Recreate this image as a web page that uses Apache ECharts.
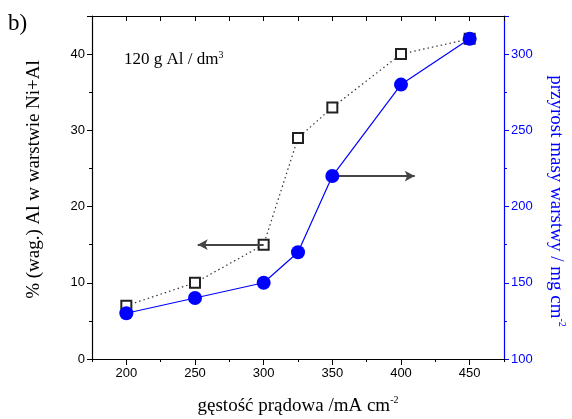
<!DOCTYPE html>
<html>
<head>
<meta charset="utf-8">
<script src="https://cdn.jsdelivr.net/npm/echarts@6/dist/echarts.min.js"></script>
<style>
  html, body { margin: 0; padding: 0; background: #fff; }
  #chart { width: 572px; height: 419px; }
</style>
</head>
<body>
<div id="chart"></div>
<script>
// current density, mA cm-2
var density = [200, 250, 300, 325, 350, 400, 450];
// % Al (wt.) in the Ni+Al layer - left axis
var alContent = [7, 10, 15, 29, 33, 40, 42];
// mass gain of the layer, mg cm-2 - right axis
var massGain = [130, 140, 150, 170, 220, 280, 310];
// labelled ticks on the x axis
var xMajorTicks = [200, 250, 300, 350, 400, 450];

var serif = 'Liberation Serif';
var sans = 'Liberation Sans';
var blue = '#0000ff';

var chartDom = document.getElementById('chart');
var myChart = echarts.init(chartDom);

function pairs(xs, ys) {
  return xs.map(function (x, i) { return [x, ys[i]]; });
}

function sup(color) {
  return {
    t: { font: '19px "Liberation Serif", serif', fill: color },
    sup: { font: '10px "Liberation Serif", serif', fill: color, padding: [0, 0, 11, 0] }
  };
}

var option = {
  animation: false,
  textStyle: { fontFamily: serif },
  grid: { left: 92, right: 68, top: 16, bottom: 60, outerBoundsMode: 'none', containLabel: false },
  graphic: [
    { type: 'text', left: 8, top: 12,
      style: { text: 'b)', fontFamily: serif, fontSize: 23, fill: '#000' } },
    { type: 'text', left: 124, top: 50,
      style: { text: '120 g Al / dm{sup|3}', fontFamily: serif, fontSize: 17, fill: '#000',
        rich: { sup: { fontFamily: serif, fontSize: 10, padding: [0, 0, 10, 0] } } } },
    // x axis title
    { type: 'text', x: 298, y: 406,
      style: { text: '{t|gęstość prądowa /mA cm}{sup|-2}', font: '19px "Liberation Serif", serif',
        fill: '#000', align: 'center', verticalAlign: 'middle', rich: sup('#000') } },
    // right axis title, read top to bottom
    { type: 'text', x: 556, y: 201, rotation: -Math.PI / 2,
      style: { text: '{t|przyrost masy warstwy / mg cm}{sup|-2}', font: '19px "Liberation Serif", serif',
        fill: blue, align: 'center', verticalAlign: 'middle', rich: sup(blue) } }
  ],
  xAxis: [
    {
      type: 'value', min: 175, max: 475, interval: 25, position: 'bottom',
      axisLine: { onZero: false, lineStyle: { color: '#000', width: 1.2 } },
      axisTick: { show: true, length: 3, lineStyle: { color: '#000' } },
      axisLabel: {
        fontFamily: sans, fontSize: 13, color: '#000', margin: 8,
        formatter: function (v) { return xMajorTicks.indexOf(v) >= 0 ? String(v) : ''; }
      },
      splitLine: { show: false }
    },
    {
      type: 'value', min: 175, max: 475, position: 'bottom',
      axisLine: { show: false },
      axisTick: { show: true, length: 6, customValues: xMajorTicks, lineStyle: { color: '#000' } },
      axisLabel: { show: false },
      splitLine: { show: false }
    },
    {
      type: 'value', min: 175, max: 475, interval: 25, position: 'top',
      axisLine: { onZero: false, lineStyle: { color: '#000', width: 1.2 } },
      axisTick: { show: true, inside: true, length: 5, lineStyle: { color: '#000' } },
      axisLabel: { show: false },
      splitLine: { show: false }
    }
  ],
  yAxis: [
    {
      type: 'value', min: 0, max: 45, interval: 10, position: 'left',
      name: '% (wag.) Al w warstwie Ni+Al',
      nameLocation: 'middle', nameGap: 48,
      nameTextStyle: { fontFamily: serif, fontSize: 19, color: '#000', padding: [0, 0, 0, 16] },
      axisLine: { show: true, onZero: false, lineStyle: { color: '#000', width: 1.2 } },
      axisTick: { show: true, length: 5, lineStyle: { color: '#000' } },
      minorTick: { show: true, splitNumber: 2, length: 3, lineStyle: { color: '#000' } },
      axisLabel: { fontFamily: sans, fontSize: 13, color: '#000', margin: 7, showMaxLabel: false },
      splitLine: { show: false }
    },
    {
      type: 'value', min: 100, max: 325, interval: 50, position: 'right',
      axisLine: { show: true, onZero: false, lineStyle: { color: blue, width: 1.2 } },
      axisTick: { show: true, length: 5, lineStyle: { color: blue } },
      minorTick: { show: true, splitNumber: 2, length: 3, lineStyle: { color: blue } },
      axisLabel: { fontFamily: sans, fontSize: 13, color: blue, margin: 7, showMaxLabel: false },
      splitLine: { show: false }
    }
  ],
  series: [
    {
      name: 'Al',
      type: 'line',
      xAxisIndex: 0, yAxisIndex: 0,
      data: pairs(density, alContent),
      symbol: 'emptyRect', symbolSize: 10,
      itemStyle: { color: '#222', borderWidth: 1.5 },
      lineStyle: { color: '#333', width: 1.2, type: [1.5, 3] },
      zlevel: 0,
      markLine: {
        silent: true,
        symbol: ['none', 'arrow'], symbolSize: [8, 10],
        label: { show: false },
        lineStyle: { color: '#444', width: 2, type: 'solid' },
        data: [[{ coord: [300, 15] }, { coord: [252, 15] }]]
      }
    },
    {
      name: 'masa',
      type: 'line',
      xAxisIndex: 0, yAxisIndex: 1,
      data: pairs(density, massGain),
      symbol: 'circle', symbolSize: 14,
      itemStyle: { color: blue },
      lineStyle: { color: blue, width: 1.2 },
      zlevel: 1,
      markLine: {
        silent: true,
        symbol: ['none', 'arrow'], symbolSize: [8, 10],
        label: { show: false },
        lineStyle: { color: '#444', width: 2, type: 'solid' },
        data: [[{ coord: [350, 220] }, { coord: [410, 220] }]]
      }
    }
  ]
};
myChart.setOption(option);
</script>
</body>
</html>
